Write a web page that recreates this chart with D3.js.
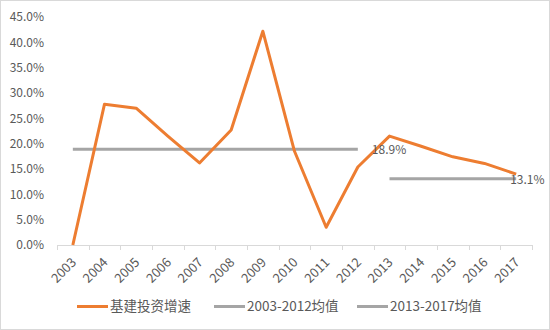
<!DOCTYPE html>
<html><head><meta charset="utf-8">
<script src="https://cdn.jsdelivr.net/npm/d3@7"></script>
<style>
body{margin:0;background:#fff;}
svg text{font-family:"Noto Sans CJK SC","Liberation Sans",sans-serif;fill:#595959;}
</style></head>
<body><svg id="chart" width="550" height="330"></svg>
<script>
// Infrastructure investment growth, 2003-2017
const years = ["2003","2004","2005","2006","2007","2008","2009","2010","2011","2012","2013","2014","2015","2016","2017"];
const growth = [0.0, 27.8, 27.0, 21.5, 16.2, 22.7, 42.2, 18.5, 3.5, 15.4, 21.5, 19.5, 17.4, 16.1, 14.0];
const avg1 = {from:"2003", to:"2012", value:18.9, label:"18.9%"};
const avg2 = {from:"2013", to:"2017", value:13.1, label:"13.1%"};
const yTicks = [0,5,10,15,20,25,30,35,40,45];
const legendNames = ["基建投资增速","2003-2012均值","2013-2017均值"];

const svg = d3.select("#chart");
svg.append("rect").attr("x",0.5).attr("y",0.5).attr("width",549).attr("height",329)
  .attr("fill","#fff").attr("stroke","#D9D9D9");

const x = d3.scaleBand().domain(years).range([57,532]);
const y = d3.scaleLinear().domain([0,45]).range([245,17]);
const cx = d => x(d) + x.bandwidth()/2;

// y tick labels
svg.append("g").selectAll("text").data(yTicks).join("text")
  .attr("x",44).attr("y",d=>y(d)).attr("dy","0.35em").attr("text-anchor","end")
  .attr("font-size",12).text(d=>d.toFixed(1)+"%");

// x axis line and ticks at category boundaries
const ax = svg.append("g");
ax.append("line").attr("x1",57).attr("x2",532).attr("y1",245.5).attr("y2",245.5)
  .attr("stroke","#D9D9D9");
const bounds = years.map(d=>x(d)).concat([532]);
ax.selectAll("line.t").data(bounds).join("line").attr("class","t")
  .attr("x1",d=>Math.round(d)+0.5).attr("x2",d=>Math.round(d)+0.5)
  .attr("y1",245).attr("y2",250).attr("stroke","#D9D9D9");
ax.selectAll("text").data(years).join("text")
  .attr("font-size",13).attr("text-anchor","end")
  .attr("transform",d=>`translate(${cx(d)+1},${260}) rotate(-45)`)
  .attr("dy","0.35em").text(d=>d);

// average lines
[avg1,avg2].forEach(a=>{
  svg.append("line").attr("x1",cx(a.from)).attr("x2",cx(a.to))
    .attr("y1",y(a.value)).attr("y2",y(a.value))
    .attr("stroke","#A5A5A5").attr("stroke-width",3);
});

// growth line
const line = d3.line().x((d,i)=>cx(years[i])).y(d=>y(d));
svg.append("path").datum(growth).attr("d",line).attr("fill","none")
  .attr("stroke","#ED7D31").attr("stroke-width",3).attr("stroke-linejoin","round");

// average labels
svg.append("text").attr("x",cx(avg1.to)+14).attr("y",y(avg1.value)+1).attr("dy","0.35em")
  .attr("font-size",12).text(avg1.label);
svg.append("text").attr("x",cx(avg2.to)-6).attr("y",y(avg2.value)+1).attr("dy","0.35em")
  .attr("font-size",12).text(avg2.label);

// legend
const legendColors = ["#ED7D31","#A5A5A5","#A5A5A5"];
const legendX = [77,214,357];
legendNames.forEach((n,i)=>{
  svg.append("line").attr("x1",legendX[i]).attr("x2",legendX[i]+31)
    .attr("y1",306.5).attr("y2",306.5).attr("stroke",legendColors[i]).attr("stroke-width",3);
  svg.append("text").attr("x",legendX[i]+33).attr("y",306.5).attr("dy","0.35em")
    .attr("font-size",13.5).text(n);
});
</script></body></html>
